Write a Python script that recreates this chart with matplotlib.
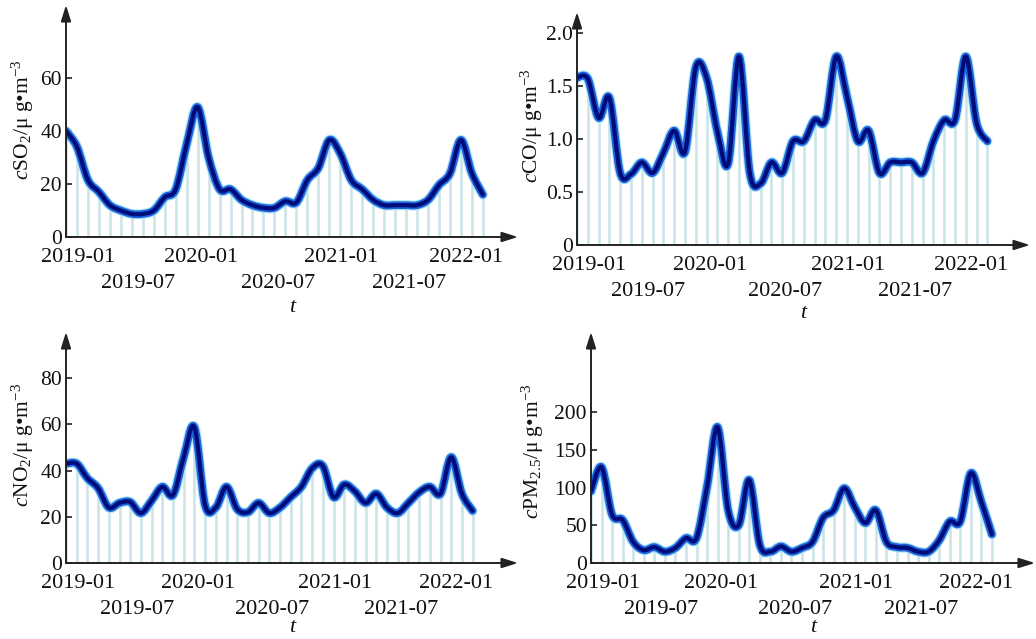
import matplotlib
matplotlib.use('Agg')
import matplotlib.pyplot as plt
import numpy as np
from matplotlib.path import Path
from matplotlib.patches import PathPatch

plt.rcParams['font.family'] = ['Liberation Serif', 'DejaVu Serif']
plt.rcParams['mathtext.fontset'] = 'custom'
plt.rcParams['mathtext.rm'] = 'Liberation Serif'
plt.rcParams['mathtext.it'] = 'Liberation Serif:italic'

# ---------------- data (monthly, 2019-01 .. 2022-03) ----------------
months = np.arange(39)

so2 = [40, 34, 21.5, 17, 12, 10, 8.7, 8.7, 10, 15, 18, 35, 49, 30, 18, 18, 14, 12, 11, 11,
       13.5, 13, 21.5, 26, 36.6, 31.5, 21.5, 18, 14, 12, 12, 12, 12, 14, 19.6, 24, 36.6, 24, 16]

co = [1.58, 1.57, 1.20, 1.39, 0.68, 0.67, 0.78, 0.68, 0.87, 1.08, 0.88, 1.68, 1.58, 1.07, 0.77,
      1.78, 0.68, 0.58, 0.78, 0.68, 0.98, 0.98, 1.18, 1.18, 1.78, 1.40, 0.98, 1.08, 0.68, 0.78,
      0.78, 0.78, 0.68, 0.98, 1.18, 1.18, 1.78, 1.15, 0.98]

no2 = [43, 43, 36.7, 32.4, 24, 26, 26.4, 21.6, 27, 33, 29.4, 45.8, 58.8, 25, 24, 33, 23.3, 22,
       26, 21.6, 24, 28.5, 33, 41, 42, 28.5, 34, 31, 26, 30, 24, 21.6, 26, 30.6, 33, 30, 45.8,
       30, 22.6]

pm25 = [95, 127, 64, 57, 28, 17, 21, 15, 20, 33, 33, 101, 180, 70, 50, 110, 24, 15, 22, 15, 20,
        28, 60, 70, 99, 74, 53, 70, 28, 21, 20, 15, 15, 30, 55, 55, 119, 81, 38]

tick_labels = ['2019-01', '2019-07', '2020-01', '2020-07', '2021-01', '2021-07', '2022-01']
tick_pos = [1.1, 6.6, 12.3, 19.3, 25.1, 31.3, 36.5]

ylabels = [r'$\it{c}$SO$_2$/μ g•m$^{-3}$',
           r'$\it{c}$CO/μ g•m$^{-3}$',
           r'$\it{c}$NO$_2$/μ g•m$^{-3}$',
           r'$\it{c}$PM$_{2.5}$/μ g•m$^{-3}$']

yticks = [[0, 20, 40, 60], [0, 0.5, 1.0, 1.5, 2.0], [0, 20, 40, 60, 80], [0, 50, 100, 150, 200]]
yticklabels = [['0', '20', '40', '60'], ['0', '0.5', '1.0', '1.5', '2.0'],
               ['0', '20', '40', '60', '80'], ['0', '50', '100', '150', '200']]

# ---------------- layout (pixels) ----------------
W, H = 1036, 639
fig = plt.figure(figsize=(W / 100, H / 100), dpi=100)

# left, right, top, bottom, month spacing px, ymax, ylabel x, ylabel y, t offset
layout = [
    (66, 518, 5, 237, 10.97, 87.5, 23, 120, -70),
    (577, 1030, 12, 245, 10.8, 2.2, 532, 126, -68),
    (66, 518, 332, 563, 10.7, 100, 23, 445, -65),
    (591, 1035, 332, 563, 10.55, 306, 533, 451, -65),
]
series = [so2, co, no2, pm25]


def smooth_path(x, y):
    x = np.asarray(x, float)
    y = np.asarray(y, float)
    verts = [(x[0], y[0])]
    codes = [Path.MOVETO]
    n = len(x)
    for i in range(n - 1):
        p0 = np.array([x[max(i - 1, 0)], y[max(i - 1, 0)]])
        p1 = np.array([x[i], y[i]])
        p2 = np.array([x[i + 1], y[i + 1]])
        p3 = np.array([x[min(i + 2, n - 1)], y[min(i + 2, n - 1)]])
        c1 = p1 + (p2 - p0) / 6.0
        c2 = p2 - (p3 - p1) / 6.0
        verts += [tuple(c1), tuple(c2), tuple(p2)]
        codes += [Path.CURVE4] * 3
    return Path(verts, codes)


axis_color = '#222222'
for k, (vals, lay) in enumerate(zip(series, layout)):
    left, right, top, bottom, mpx, ymax, lx, ly, toff = lay
    ax = fig.add_axes([left / W, 1 - bottom / H, (right - left) / W, (bottom - top) / H])
    ax.set_xlim(0, (right - left) / mpx)
    ax.set_ylim(0, ymax)
    for s in ax.spines.values():
        s.set_visible(False)
    ax.set_xticks([])
    ax.set_yticks(yticks[k])
    ax.set_yticklabels(yticklabels[k], fontsize=15.5, color='#111111')
    ax.tick_params(axis='y', direction='in', length=4, width=1.2, color=axis_color, pad=3)

    # stems
    ax.vlines(months, 0, vals, colors='#cde4e7', linewidth=1.9, zorder=1)

    # smooth line with glow layers
    path = smooth_path(months, vals)
    for lw, col, a in [(7.2, '#a6e3f4', 0.9), (5.6, '#1d63dc', 1.0), (3.0, '#000c7a', 1.0)]:
        ax.add_patch(PathPatch(path, facecolor='none', edgecolor=col, lw=lw, alpha=a,
                               joinstyle='round', capstyle='round', zorder=3))

    # axes with arrows
    ap = dict(arrowstyle='-|>,head_length=0.8,head_width=0.25', lw=1.4, color=axis_color,
              shrinkA=0, shrinkB=0, mutation_scale=12)
    ax.annotate('', xy=(1, 0), xytext=(0, 0), xycoords='axes fraction', arrowprops=ap, zorder=5)
    ax.annotate('', xy=(0, 1), xytext=(0, 0), xycoords='axes fraction', arrowprops=ap, zorder=5)

    # staggered date labels
    for j, (lab, pos) in enumerate(zip(tick_labels, tick_pos)):
        off = -21 if j % 2 == 0 else -46
        ax.annotate(lab, xy=(pos, 0), xycoords=('data', 'axes fraction'),
                    xytext=(0, off), textcoords='offset pixels', ha='center', va='center',
                    fontsize=16, color='#111111', annotation_clip=False)
    ax.annotate('t', xy=(0.5, 0), xycoords='axes fraction', xytext=(0, toff),
                textcoords='offset pixels', ha='center', va='center', fontsize=16,
                style='italic', color='#111111', annotation_clip=False)

    fig.text(lx / W, 1 - ly / H, ylabels[k], rotation=90, ha='center', va='center',
             fontsize=15.5, color='#111111')

fig.savefig('out.png', dpi=100)
